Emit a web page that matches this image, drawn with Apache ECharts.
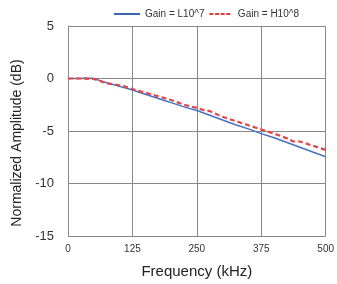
<!DOCTYPE html>
<html><head><meta charset="utf-8">
<script src="https://cdn.jsdelivr.net/npm/echarts@6/dist/echarts.min.js"></script>
<style>html,body{margin:0;padding:0;background:#fff}#c{width:337px;height:284px}</style>
</head><body><div id="c"></div>
<script>
var freqL = [0, 25, 37.5, 50, 62.5, 75, 100, 125, 150, 175, 200, 225, 250, 275, 300, 325, 350, 375, 400, 425, 450, 475, 500];
var ampL = [0, 0, 0.05, 0, -0.2, -0.4, -0.75, -1.1, -1.5, -1.9, -2.3, -2.7, -3.05, -3.5, -3.95, -4.4, -4.8, -5.25, -5.65, -6.1, -6.55, -7.0, -7.45];
var freqH = [0, 25, 50, 62.5, 75, 87.5, 100, 112.5, 125, 150, 175, 200, 225, 250, 262.5, 275, 300, 325, 350, 375, 400, 425, 437.5, 450, 475, 500];
var ampH = [0, 0, -0.05, -0.25, -0.45, -0.55, -0.65, -0.8, -1.0, -1.35, -1.7, -2.05, -2.5, -2.8, -3.0, -3.1, -3.65, -4.05, -4.45, -4.85, -5.25, -5.7, -6.0, -6.0, -6.4, -6.8];
var seriesNames = ['Gain = L10^7', 'Gain = H10^8'];
function pairs(x, y) { return x.map(function (v, i) { return [v, y[i]]; }); }
var chart = echarts.init(document.getElementById('c'));
chart.setOption({
  animation: false,
  legend: {
    top: 9, left: 114, itemWidth: 26, itemHeight: 2, itemGap: 5, padding: 0,
    textStyle: { fontSize: 10, color: '#333', fontFamily: 'Liberation Sans' },
    data: [
      { name: seriesNames[0], icon: 'path://M0,0h26v2h-26z', itemStyle: { color: '#3A66B8' } },
      { name: seriesNames[1], icon: 'path://M0,0h5v2.5h-5zM7,0h5v2.5h-5zM14,0h5v2.5h-5zM21,0h5v2.5h-5z', itemStyle: { color: '#E03A3A' } }
    ]
  },
  grid: { left: 68, right: 10, top: 26, bottom: 47 },
  xAxis: {
    type: 'value', min: 0, max: 500, interval: 125,
    name: 'Frequency (kHz)', nameLocation: 'middle', nameGap: 28,
    nameTextStyle: { fontSize: 15, color: '#222', fontFamily: 'Liberation Sans' },
    axisLine: { show: true, lineStyle: { color: '#888' } },
    axisTick: { show: false },
    axisLabel: { fontSize: 10, color: '#333', margin: 8, fontFamily: 'Liberation Sans' },
    splitLine: { show: true, lineStyle: { color: '#888', width: 1 } }
  },
  yAxis: {
    type: 'value', min: -15, max: 5, interval: 5,
    name: 'Normalized Amplitude (dB)', nameLocation: 'middle', nameGap: 34,
    nameTextStyle: { fontSize: 14, color: '#222', fontFamily: 'Liberation Sans', padding: [0, 24, 0, 0] },
    axisLine: { show: true, lineStyle: { color: '#888' } },
    axisTick: { show: false },
    axisLabel: { fontSize: 13, color: '#333', margin: 14, fontFamily: 'Liberation Sans' },
    splitLine: { show: true, lineStyle: { color: '#888', width: 1 } }
  },
  series: [
    { name: seriesNames[0], type: 'line', data: pairs(freqL, ampL), symbol: 'none',
      lineStyle: { color: '#4472C4', width: 1.5 }, itemStyle: { color: '#4472C4' } },
    { name: seriesNames[1], type: 'line', data: pairs(freqH, ampH), symbol: 'none',
      lineStyle: { color: '#E04848', width: 2.2, type: [5, 3] }, itemStyle: { color: '#E04848' } }
  ]
});
</script></body></html>
